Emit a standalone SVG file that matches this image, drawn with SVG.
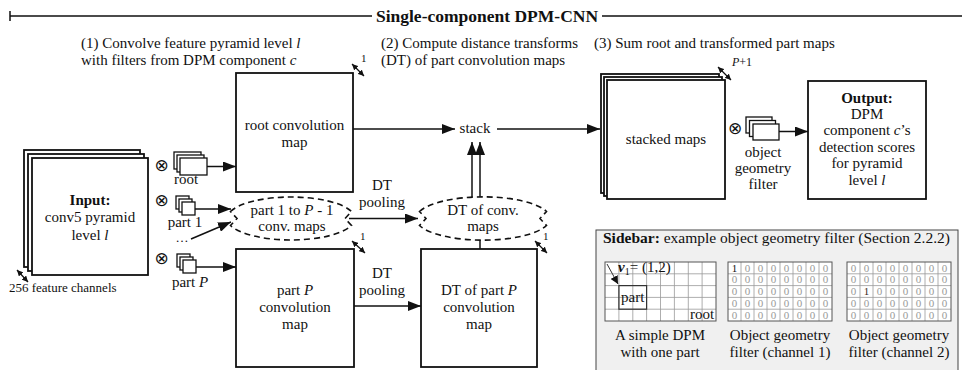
<svg xmlns="http://www.w3.org/2000/svg" width="962" height="370" viewBox="0 0 962 370">
<style>
text{font-family:"Liberation Serif","Times New Roman",serif;font-size:15px;fill:#111}
.c{text-anchor:middle}
.b{font-weight:bold}
.i{font-style:italic}
.sm{font-size:12px}
.box{fill:#fff;stroke:#111;stroke-width:1.8}
.flt{fill:#fff;stroke:#111;stroke-width:1.3}
.ln{fill:none;stroke:#111;stroke-width:1.5}
.dash{fill:#fff;stroke:#111;stroke-width:1.6;stroke-dasharray:6 4}
.dbl{fill:none;stroke:#111;stroke-width:1.3}
.ot{font-family:"DejaVu Sans",sans-serif;font-size:17px}
.g{font-size:11px;fill:#999}
.gl{fill:none;stroke:#999;stroke-width:0.8}
.go{fill:none;stroke:#555;stroke-width:1}
</style>
<defs>
<marker id="ah" markerUnits="userSpaceOnUse" markerWidth="13" markerHeight="10" refX="13" refY="5" orient="auto"><path d="M0,0 L13,5 L0,10 z" fill="#111"/></marker>
<marker id="sh" markerUnits="userSpaceOnUse" markerWidth="6" markerHeight="6" refX="6" refY="3" orient="auto-start-reverse"><path d="M0,0 L6,3 L0,6 z" fill="#111"/></marker>
<marker id="vh" markerUnits="userSpaceOnUse" markerWidth="8" markerHeight="8" refX="8" refY="4" orient="auto"><path d="M0,0 L8,4 L0,8 z" fill="#111"/></marker>
</defs>

<g id="title">
<path class="ln" d="M10,16 H372 M602,16 H962 M10,11 V21"/>
<text class="c b" x="487" y="22" style="font-size:17.5px">Single-component DPM-CNN</text>
</g>

<g id="steps">
<text x="81" y="48">(1) Convolve feature pyramid level <tspan class="i">l</tspan></text>
<text x="81" y="65">with filters from DPM component <tspan class="i">c</tspan></text>
<text x="381" y="48">(2) Compute distance transforms</text>
<text x="381" y="65">(DT) of part convolution maps</text>
<text x="594" y="48">(3) Sum root and transformed part maps</text>
</g>

<g id="connectors">
<line class="ln" x1="207" y1="166.5" x2="236" y2="166.5" marker-end="url(#ah)"/>
<line class="ln" x1="195" y1="209" x2="231" y2="209" marker-end="url(#ah)"/>
<line class="ln" x1="191" y1="239" x2="231" y2="222" marker-end="url(#ah)"/>
<line class="ln" x1="196" y1="267" x2="236" y2="267" marker-end="url(#ah)"/>
<line class="ln" x1="353" y1="129" x2="455" y2="129" marker-end="url(#ah)"/>
<line class="ln" x1="497" y1="129" x2="600" y2="129" marker-end="url(#ah)"/>
<line class="ln" x1="349" y1="218.5" x2="418" y2="218.5" marker-end="url(#ah)"/>
<line class="ln" x1="354" y1="306" x2="421" y2="306" marker-end="url(#ah)"/>
<line class="ln" x1="472" y1="200" x2="472" y2="142" marker-end="url(#ah)"/>
<line class="ln" x1="480" y1="249" x2="480" y2="142" marker-end="url(#ah)"/>
<line class="ln" x1="779" y1="131.5" x2="808" y2="131.5" marker-end="url(#ah)"/>
<text class="c" x="382" y="190">DT</text>
<text class="c" x="382" y="207">pooling</text>
<text class="c" x="382" y="278">DT</text>
<text class="c" x="382" y="295">pooling</text>
</g>

<g id="input">
<rect class="box" x="24" y="150" width="116" height="117"/>
<rect class="box" x="28" y="154" width="116" height="117"/>
<rect class="box" x="32" y="158" width="116" height="117"/>
<text class="c b" x="90" y="205">Input:</text>
<text class="c" x="90" y="222">conv5 pyramid</text>
<text class="c" x="90" y="240">level <tspan class="i">l</tspan></text>
<line class="dbl" x1="17" y1="270" x2="28" y2="282" marker-start="url(#sh)" marker-end="url(#sh)"/>
<text class="sm" x="9" y="292" style="font-size:13px">256 feature channels</text>
</g>

<g id="root-filter">
<text class="ot c" x="161.5" y="171">⊗</text>
<rect class="flt" x="174" y="152" width="27" height="17"/>
<rect class="flt" x="177" y="155" width="27" height="17"/>
<rect class="flt" x="180" y="158" width="27" height="17"/>
<text class="c" x="186" y="184">root</text>
</g>

<g id="part1-filter">
<text class="ot c" x="161.5" y="206">⊗</text>
<rect class="flt" x="176" y="196" width="13" height="13"/>
<rect class="flt" x="179" y="199" width="13" height="13"/>
<rect class="flt" x="182" y="202" width="13" height="13"/>
<text class="c" x="185" y="227">part 1</text>
<text class="c" x="182" y="242" style="font-size:13px">…</text>
</g>

<g id="partP-filter">
<text class="ot c" x="161.5" y="264">⊗</text>
<rect class="flt" x="177" y="254" width="13" height="13"/>
<rect class="flt" x="180" y="257" width="13" height="13"/>
<rect class="flt" x="183" y="260" width="13" height="13"/>
<text class="c" x="190" y="287">part <tspan class="i">P</tspan></text>
</g>

<g id="root-map">
<rect class="box" x="236" y="73" width="117" height="119"/>
<text class="c" x="294.5" y="130">root convolution</text>
<text class="c" x="294.5" y="147">map</text>
<line class="dbl" x1="352" y1="64" x2="364" y2="76" marker-start="url(#sh)" marker-end="url(#sh)"/>
<text class="sm" x="361" y="62" style="font-size:11px">1</text>
</g>

<g id="part-maps">
<path class="dash" d="M230.5,211.5 A64,21.5 0 0 1 351.5,211.5 L345,218.5 L351.5,225.5 A64,21.5 0 0 1 230.5,225.5 L237,218.5 Z"/>
<text class="c" x="292" y="215">part 1 to <tspan class="i">P</tspan> - 1</text>
<text class="c" x="292" y="231">conv. maps</text>
</g>

<g id="dt-maps">
<path class="dash" d="M419.5,211.5 A67,21.5 0 0 1 546.5,211.5 L540,218.5 L546.5,225.5 A67,21.5 0 0 1 419.5,225.5 L426,218.5 Z"/>
<text class="c" x="483" y="215">DT of conv.</text>
<text class="c" x="483" y="231">maps</text>
</g>

<g id="partP-map">
<rect class="box" x="236" y="249" width="118" height="118"/>
<text class="c" x="295" y="295">part <tspan class="i">P</tspan></text>
<text class="c" x="295" y="312">convolution</text>
<text class="c" x="295" y="329">map</text>
<line class="dbl" x1="352" y1="241" x2="365" y2="253" marker-start="url(#sh)" marker-end="url(#sh)"/>
<text class="sm" x="360" y="240" style="font-size:11px">1</text>
</g>

<g id="dt-partP-map">
<rect class="box" x="421" y="249" width="116" height="118"/>
<text class="c" x="479" y="295">DT of part <tspan class="i">P</tspan></text>
<text class="c" x="479" y="312">convolution</text>
<text class="c" x="479" y="329">map</text>
<line class="dbl" x1="535" y1="241" x2="547" y2="253" marker-start="url(#sh)" marker-end="url(#sh)"/>
<text class="sm" x="543" y="240" style="font-size:11px">1</text>
</g>

<g id="stack">
<text class="c" x="475" y="133">stack</text>
</g>

<g id="stacked-maps">
<rect class="box" x="601" y="74" width="118" height="119"/>
<rect class="box" x="604" y="77" width="118" height="119"/>
<rect class="box" x="607" y="80" width="118" height="119"/>
<text class="c" x="666" y="144">stacked maps</text>
<line class="dbl" x1="718" y1="67" x2="731" y2="80" marker-start="url(#sh)" marker-end="url(#sh)"/>
<text x="732" y="66" style="font-size:12px"><tspan class="i">P</tspan>+1</text>
</g>

<g id="geometry-filter">
<text class="ot c" x="735" y="134">⊗</text>
<rect class="flt" x="746" y="117" width="26" height="16"/>
<rect class="flt" x="749.5" y="120.5" width="26" height="16"/>
<rect class="flt" x="753" y="124" width="26" height="16"/>
<text class="c" x="763" y="157">object</text>
<text class="c" x="763" y="173">geometry</text>
<text class="c" x="763" y="189">filter</text>
</g>

<g id="output">
<rect class="box" x="808" y="81" width="118" height="118"/>
<text class="c b" x="867" y="103">Output:</text>
<text class="c" x="867" y="119">DPM</text>
<text class="c" x="867" y="135">component <tspan class="i">c</tspan>’s</text>
<text class="c" x="867" y="152">detection scores</text>
<text class="c" x="867" y="168">for pyramid</text>
<text class="c" x="867" y="185">level <tspan class="i">l</tspan></text>
</g>

<g id="sidebar">
<rect x="596" y="230" width="362" height="145" fill="#f0f0f0" stroke="#444" stroke-width="1"/>
<text x="603" y="243" style="font-size:15.5px"><tspan class="b">Sidebar:</tspan> example object geometry filter (Section 2.2.2)</text>
<g id="grid-dpm">
<rect x="605" y="262" width="111" height="59" fill="#fff"/>
<path class="gl" d="M618.9,262V321M632.8,262V321M646.6,262V321M660.5,262V321M674.4,262V321M688.3,262V321M702.1,262V321M605,273.8H716M605,285.6H716M605,297.4H716M605,309.2H716"/>
<rect class="go" x="605" y="262" width="111" height="59"/>
<rect x="618.9" y="285.6" width="27.7" height="23.6" fill="none" stroke="#333" stroke-width="1.2"/>
<line x1="607" y1="264" x2="618" y2="284" stroke="#333" stroke-width="1" marker-end="url(#vh)"/>
<text x="618" y="272"><tspan class="b i">v</tspan><tspan style="font-size:10px" dy="3">1</tspan><tspan dy="-3">= (1,2)</tspan></text>
<text x="621" y="302">part</text>
<text x="690" y="319">root</text>
</g>
<g id="grid-ch1">
<rect x="728" y="262" width="104" height="59" fill="#fff"/>
<path class="gl" d="M741,262V321M754,262V321M767,262V321M780,262V321M793,262V321M806,262V321M819,262V321M728,273.8H832M728,285.6H832M728,297.4H832M728,309.2H832"/>
<rect class="go" x="728" y="262" width="104" height="59"/>
<text class="c g" x="734.5 747.5 760.5 773.5 786.5 799.5 812.5 825.5" y="271.5"><tspan style="fill:#111">1</tspan>0000000</text>
<text class="c g" x="734.5 747.5 760.5 773.5 786.5 799.5 812.5 825.5" y="283.3">00000000</text>
<text class="c g" x="734.5 747.5 760.5 773.5 786.5 799.5 812.5 825.5" y="295.1">00000000</text>
<text class="c g" x="734.5 747.5 760.5 773.5 786.5 799.5 812.5 825.5" y="306.9">00000000</text>
<text class="c g" x="734.5 747.5 760.5 773.5 786.5 799.5 812.5 825.5" y="318.7">00000000</text>
</g>
<g id="grid-ch2">
<rect x="847" y="262" width="104" height="59" fill="#fff"/>
<path class="gl" d="M860,262V321M873,262V321M886,262V321M899,262V321M912,262V321M925,262V321M938,262V321M847,273.8H951M847,285.6H951M847,297.4H951M847,309.2H951"/>
<rect class="go" x="847" y="262" width="104" height="59"/>
<text class="c g" x="853.5 866.5 879.5 892.5 905.5 918.5 931.5 944.5" y="271.5">00000000</text>
<text class="c g" x="853.5 866.5 879.5 892.5 905.5 918.5 931.5 944.5" y="283.3">00000000</text>
<text class="c g" x="853.5 866.5 879.5 892.5 905.5 918.5 931.5 944.5" y="295.1">0<tspan style="fill:#3a2a1a">1</tspan>000000</text>
<text class="c g" x="853.5 866.5 879.5 892.5 905.5 918.5 931.5 944.5" y="306.9">00000000</text>
<text class="c g" x="853.5 866.5 879.5 892.5 905.5 918.5 931.5 944.5" y="318.7">00000000</text>
</g>
<text class="c" x="660" y="340">A simple DPM</text>
<text class="c" x="660" y="357">with one part</text>
<text class="c" x="780" y="340">Object geometry</text>
<text class="c" x="780" y="357">filter (channel 1)</text>
<text class="c" x="899" y="340">Object geometry</text>
<text class="c" x="899" y="357">filter (channel 2)</text>
</g>
</svg>
